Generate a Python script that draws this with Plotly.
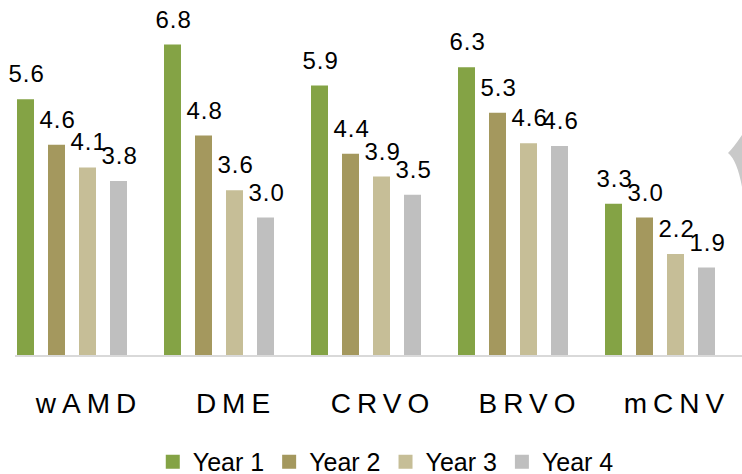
import plotly.graph_objects as go

# ---- data ----
categories = ["wAMD", "DME", "CRVO", "BRVO", "mCNV"]
series_names = ["Year 1", "Year 2", "Year 3", "Year 4"]
year1 = [5.6, 6.8, 5.9, 6.3, 3.3]
year2 = [4.6, 4.8, 4.4, 5.3, 3.0]
year3 = [4.1, 3.6, 3.9, 4.63, 2.2]
year4 = [3.8, 3.0, 3.5, 4.57, 1.9]

# ---- style ----
colors = ["#84A345", "#A4985E", "#C6BE97", "#BFBFBF"]
FONT = "Liberation Sans, Arial, sans-serif"
W, H = 742, 474
ML, MB = 15, 119
PLOT_W = W - ML
PLOT_H = H - MB
CAT_PX = 147.0            # pixel width of one category
FIRST_CENTER_PX = 72.0    # pixel x of first category centre
BAR_SLOT_PX = 31.0
BAR_LINE = 2.0
BAR_W_PX = 17.0 - BAR_LINE
PX_PER_UNIT = 45.5

bargap = 1 - 4 * BAR_SLOT_PX / CAT_PX
bargroupgap = 1 - BAR_W_PX / BAR_SLOT_PX
slot = (1 - bargap) / 4
x0 = -(FIRST_CENTER_PX - ML) / CAT_PX
xr = [x0, x0 + PLOT_W / CAT_PX]

series = [year1, year2, year3, year4]
xpos = list(range(len(categories)))

fig = go.Figure()
for name, vals, col in zip(series_names, series, colors):
    fig.add_trace(go.Bar(
        x=xpos, y=vals, name=name,
        marker=dict(color=col, line=dict(width=BAR_LINE, color=col)),
        hoverinfo="skip",
    ))

annotations = []
for j, vals in enumerate(series):
    for i, v in enumerate(vals):
        annotations.append(dict(
            x=i + (j - 1.5) * slot, y=v, xref="x", yref="y",
            text=f"{v:.1f}", showarrow=False,
            xanchor="center", yanchor="bottom", yshift=11, xshift=0.5,
            font=dict(family=FONT, size=24, color="#000000"),
        ))

# decorative grey sliver at the right edge of the reference image
def px2paper(px, py):
    return (px - ML) / PLOT_W, (PLOT_H - py) / PLOT_H

p1 = px2paper(742, 135)
c1 = px2paper(734, 147)
p2 = px2paper(728, 153)
c2 = px2paper(737, 160)
p3 = px2paper(742, 187)
path = (f"M {p1[0]},{p1[1]} Q {c1[0]},{c1[1]} {p2[0]},{p2[1]} "
        f"Q {c2[0]},{c2[1]} {p3[0]},{p3[1]} Z")
shapes = [dict(type="path", xref="paper", yref="paper", path=path,
               fillcolor="#C9C9C9", line=dict(width=0), layer="above")]

label_shift = 17.0 / CAT_PX
fig.update_layout(
    width=W, height=H,
    margin=dict(l=ML, r=0, t=0, b=MB, pad=0),
    barmode="group", bargap=bargap, bargroupgap=bargroupgap,
    plot_bgcolor="white", paper_bgcolor="white",
    font=dict(family=FONT, color="#000000"),
    annotations=annotations,
    shapes=shapes,
    showlegend=True,
    legend=dict(
        orientation="h", x=0.51, xanchor="center",
        yref="container", y=0.074, yanchor="top",
        font=dict(family=FONT, size=25, color="#000000"),
        itemwidth=30, traceorder="normal",
        bgcolor="rgba(0,0,0,0)",
    ),
    xaxis=dict(
        range=xr, tickmode="array",
        tickvals=[i + label_shift for i in xpos], ticktext=categories,
        showline=True, linecolor="#D9D9D9", linewidth=1.5, layer="above traces",
        ticks="", showgrid=False, zeroline=False,
        tickfont=dict(family=FONT, size=28, color="#000000"),
        ticklabelstandoff=23,
    ),
    yaxis=dict(range=[0, PLOT_H / PX_PER_UNIT], visible=False, showgrid=False, zeroline=False),
)

post = """
document.body.style.margin = '0';
document.body.style.padding = '0';
var gd = document.getElementById('{plot_id}');
function ls(){
  gd.querySelectorAll('.xtick text').forEach(function(t){t.style.letterSpacing='6px';});
  gd.querySelectorAll('.annotation-text').forEach(function(t){t.style.letterSpacing='1px';});
}
ls();
gd.on('plotly_afterplot', ls);
"""

fig.write_html("out.html", post_script=post, config={"displayModeBar": False})
